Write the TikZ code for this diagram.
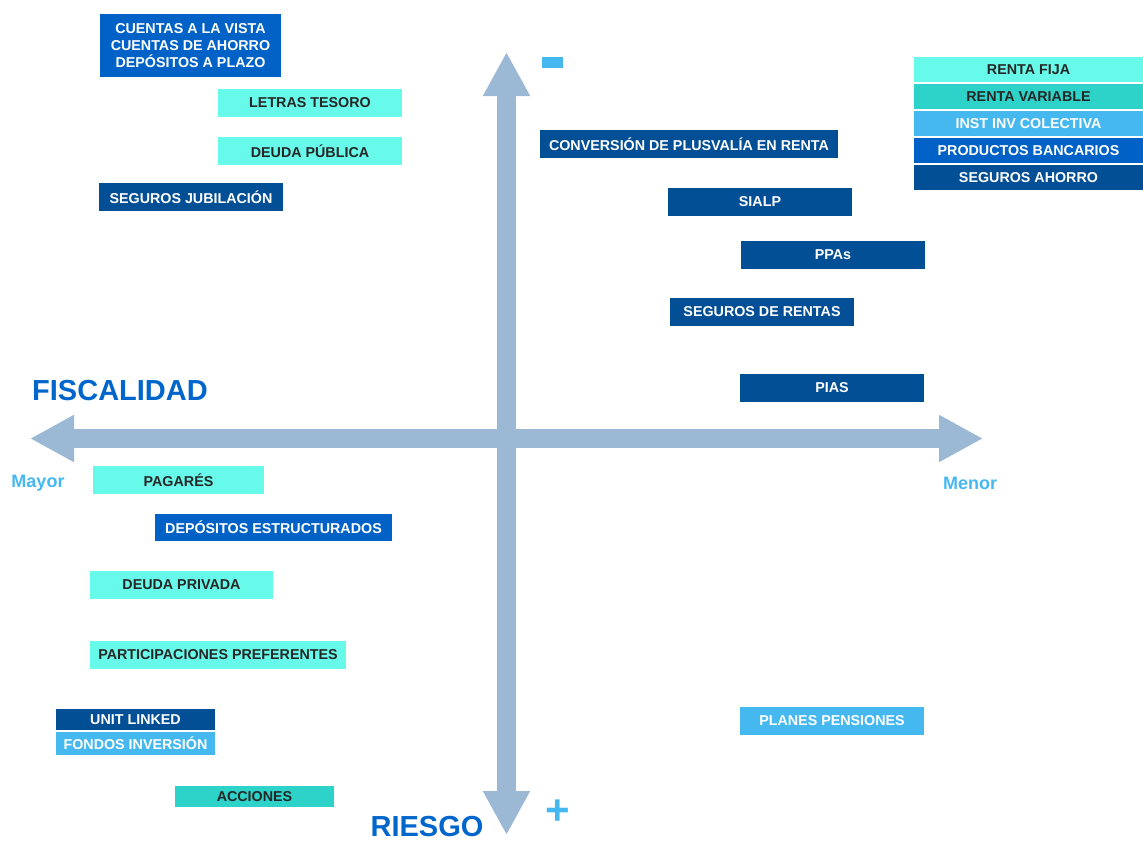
\documentclass[tikz,border=0pt]{standalone}
\usepackage{fontspec}
\setmainfont{Liberation Sans}
\usetikzlibrary{arrows.meta}
\definecolor{rfija}{HTML}{67F9EA}
\definecolor{rvar}{HTML}{2DD2C8}
\definecolor{iic}{HTML}{45B8F0}
\definecolor{banca}{HTML}{0062C6}
\definecolor{seguro}{HTML}{034F96}
\definecolor{eje}{HTML}{9BB9D5}
\definecolor{titulo}{HTML}{0066CC}

\begin{document}
\begin{tikzpicture}[x=1pt,y=-1pt]
 \tikzset{
  prod/.style={minimum height=28pt, inner sep=0pt, font=\bfseries\fontsize{14.3}{17}\selectfont},
  rf/.style={prod, fill=rfija, text=black!85},
  rv/.style={prod, fill=rvar, text=black!85},
  ii/.style={prod, fill=iic, text=white},
  pb/.style={prod, fill=banca, text=white},
  sa/.style={prod, fill=seguro, text=white},
  axis/.style={eje, line width=19pt, {Triangle[length=44pt,width=44pt]}-{Triangle[length=44pt,width=44pt]}},
  big/.style={font=\bfseries\fontsize{29}{31}\selectfont, text=titulo},
  side/.style={font=\bfseries\fontsize{18}{20}\selectfont, text=iic}
 }
 \useasboundingbox (0,0) rectangle (1143,841);

 % ejes
 \coordinate (top) at (506.5,52);
 \coordinate (bot) at (506.5,835);
 \coordinate (lft) at (30,438.5);
 \coordinate (rgt) at (983,438.5);
 \draw [axis] (lft) -- (rgt);
 \draw [axis] (top) -- (bot);

 \node [big] (fisc) at (120,391) {FISCALIDAD};
 \node [big, inner sep=0pt] (riesgo) at (427,827) {RIESGO};
 \node [side] (mayor) at (38,483) {Mayor};
 \node [side] (menor) at (970,483) {Menor};
 \node [fill=iic, minimum width=21pt, minimum height=11pt, inner sep=0pt] (menos) at (552.5,62.5) {};
 \node [font=\bfseries\fontsize{42}{42}\selectfont, text=iic] (mas) at (558,812) {+};

 % leyenda
 \foreach \st/\txt [count=\i from 0] in {rf/RENTA FIJA, rv/RENTA VARIABLE, ii/INST INV COLECTIVA,
                                        pb/PRODUCTOS BANCARIOS, sa/SEGUROS AHORRO}
  { \node [\st, minimum width=229pt, minimum height=25pt] (ley\i) at (1028.5,69.5+27*\i) {\txt}; }

 % productos
 \node [pb, minimum width=181pt, minimum height=63pt, align=center] (cuentas) at (190.5,45.5)
  {CUENTAS A LA VISTA\\CUENTAS DE AHORRO\\DEPÓSITOS A PLAZO};
 \node [rf, minimum width=184pt] (letras) at (310,103) {LETRAS TESORO};
 \node [rf, minimum width=184pt] (dpub) at (310,151) {DEUDA PÚBLICA};
 \node [sa, minimum width=184pt] (segjub) at (191,197) {SEGUROS JUBILACIÓN};
 \node [sa, minimum width=298pt] (conv) at (689,144) {CONVERSIÓN DE PLUSVALÍA EN RENTA};
 \node [sa, minimum width=184pt] (sialp) at (760,202) {SIALP};
 \node [sa, minimum width=184pt] (ppa) at (833,255) {PPAs};
 \node [sa, minimum width=184pt] (segrent) at (762,312) {SEGUROS DE RENTAS};
 \node [sa, minimum width=184pt] (pias) at (832,388) {PIAS};
 \node [rf, minimum width=171pt] (pagare) at (178.5,480) {PAGARÉS};
 \node [pb, minimum width=237pt, minimum height=27pt] (depest) at (273.5,527.5) {DEPÓSITOS ESTRUCTURADOS};
 \node [rf, minimum width=183pt] (dpriv) at (181.5,585) {DEUDA PRIVADA};
 \node [rf, minimum width=256pt] (partpref) at (218,655) {PARTICIPACIONES PREFERENTES};
 \node [sa, minimum width=159pt, minimum height=21pt] (unitl) at (135.5,719.5) {UNIT LINKED};
 \node [ii, minimum width=159pt, minimum height=23pt] (fondos) at (135.5,743.5) {FONDOS INVERSIÓN};
 \node [rv, minimum width=159pt, minimum height=21pt] (acc) at (254.5,796.5) {ACCIONES};
 \node [ii, minimum width=184pt] (ppens) at (832,721) {PLANES PENSIONES};
\end{tikzpicture}
\end{document}
